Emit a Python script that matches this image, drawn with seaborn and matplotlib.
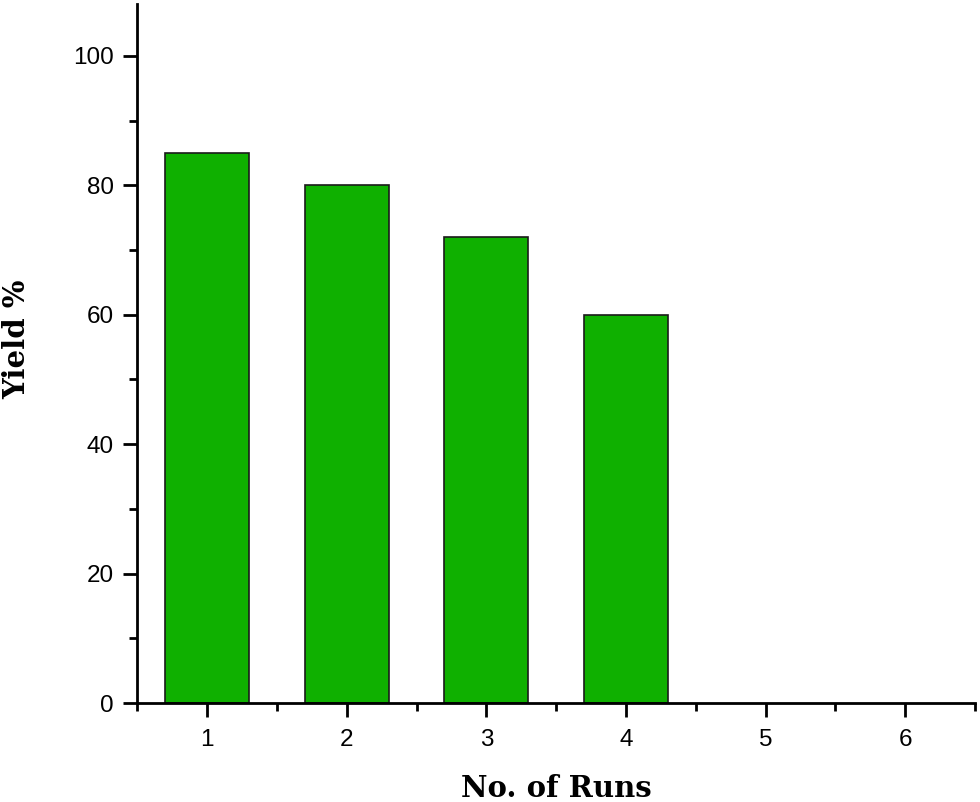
import numpy as np
import pandas as pd
import matplotlib
matplotlib.use("Agg")
import matplotlib.pyplot as plt
from matplotlib.ticker import FixedLocator
import seaborn as sns

runs = ["1", "2", "3", "4", "5", "6"]
yield_pct = [85, 80, 72, 60, np.nan, np.nan]

sns.set_style("ticks")
plt.rcParams['font.family'] = ['Liberation Sans', 'DejaVu Sans']
plt.rcParams['text.color'] = 'black'
plt.rcParams['axes.labelcolor'] = 'black'

df = pd.DataFrame({"run": runs, "yield": yield_pct}).dropna()

fig = plt.figure(figsize=(9.8, 8.02), dpi=100)
ax = fig.add_axes([0.140, 0.1234, 0.855, 0.8716])

sns.barplot(data=df, x="run", y="yield", order=runs, color="#0fb000",
            saturation=1, width=0.6, edgecolor="#1a1a1a", linewidth=1.2, ax=ax)

ax.set_xlim(-0.5, 5.5)
ax.set_ylim(0, 108)
ax.yaxis.set_major_locator(FixedLocator([0, 20, 40, 60, 80, 100]))
ax.yaxis.set_minor_locator(FixedLocator([10, 30, 50, 70, 90]))
ax.xaxis.set_minor_locator(FixedLocator(np.arange(-0.5, 6, 1.0)))

sns.despine(ax=ax)
for s in ["left", "bottom"]:
    ax.spines[s].set_linewidth(2)
    ax.spines[s].set_color("black")

ax.tick_params(axis="both", which="major", direction="out", length=10, width=2,
               labelsize=17.5, colors="black", pad=7)
ax.tick_params(axis="both", which="minor", direction="out", length=6, width=2,
               colors="black")
ax.tick_params(axis="x", which="major", pad=9)

label_font = dict(family="DejaVu Serif", fontweight="bold", fontsize=21)
ax.set_xlabel("No. of Runs", labelpad=16, **label_font)
ax.set_ylabel("Yield %", labelpad=30, y=0.52, **label_font)

fig.savefig("out.png", dpi=100)
